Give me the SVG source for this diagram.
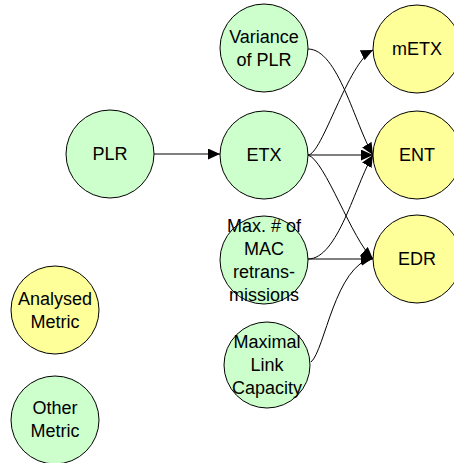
<svg xmlns="http://www.w3.org/2000/svg" width="454" height="463" viewBox="0 0 454 463">
<style>
.n{stroke:#000;stroke-width:1}
.g{fill:#CCFFCC}
.y{fill:#FFFF99}
.t{font-family:"Liberation Sans",Arial,sans-serif;font-size:18px;fill:#000;text-anchor:middle}
.e{fill:none;stroke:#000;stroke-width:1;marker-end:url(#ah)}
</style>
<defs>
<marker id="ah" markerUnits="userSpaceOnUse" markerWidth="12" markerHeight="11" refX="12" refY="5.5" orient="auto">
<path d="M0,0 L12,5.5 L0,11 z" fill="#000"/>
</marker>
</defs>
<rect width="454" height="463" fill="#fff"/>
<g id="connectors">
<path class="e" d="M154,154 L220,154"/>
<path class="e" d="M308,49 C338,49 355,125 373,155"/>
<path class="e" d="M308,155 C322,155 348,62 373,50"/>
<path class="e" d="M308,155 L373,155"/>
<path class="e" d="M308,155 C325,160 352,240 373,259"/>
<path class="e" d="M308,259 C338,259 355,185 373,155"/>
<path class="e" d="M308,259 L373,259"/>
<path class="e" d="M311,362 C325,350 335,265 373,258"/>
</g>
<g id="PLR"><circle class="n g" cx="110" cy="154" r="44"/><text class="t" x="110" y="160">PLR</text></g>
<g id="Variance"><circle class="n g" cx="264" cy="48" r="44"/><text class="t" x="264" y="43">Variance</text><text class="t" x="264" y="66">of PLR</text></g>
<g id="ETX"><circle class="n g" cx="264" cy="155" r="44"/><text class="t" x="264" y="161">ETX</text></g>
<g id="MaxMAC"><circle class="n g" cx="264" cy="260" r="44"/><text class="t" x="264" y="232">Max. # of</text><text class="t" x="264" y="255">MAC</text><text class="t" x="264" y="278">retrans-</text><text class="t" x="264" y="301">missions</text></g>
<g id="MaxLink"><circle class="n g" cx="267" cy="365" r="43"/><text class="t" x="267" y="348">Maximal</text><text class="t" x="267" y="371">Link</text><text class="t" x="267" y="394">Capacity</text></g>
<g id="mETX"><circle class="n y" cx="417" cy="49" r="44"/><text class="t" x="417" y="55">mETX</text></g>
<g id="ENT"><circle class="n y" cx="417" cy="155" r="44"/><text class="t" x="417" y="161">ENT</text></g>
<g id="EDR"><circle class="n y" cx="417" cy="259" r="44"/><text class="t" x="417" y="265">EDR</text></g>
<g id="Analysed"><circle class="n y" cx="55" cy="310" r="44"/><text class="t" x="55" y="305">Analysed</text><text class="t" x="55" y="328">Metric</text></g>
<g id="Other"><circle class="n g" cx="55" cy="420" r="44"/><text class="t" x="55" y="414">Other</text><text class="t" x="55" y="437">Metric</text></g>
</svg>
